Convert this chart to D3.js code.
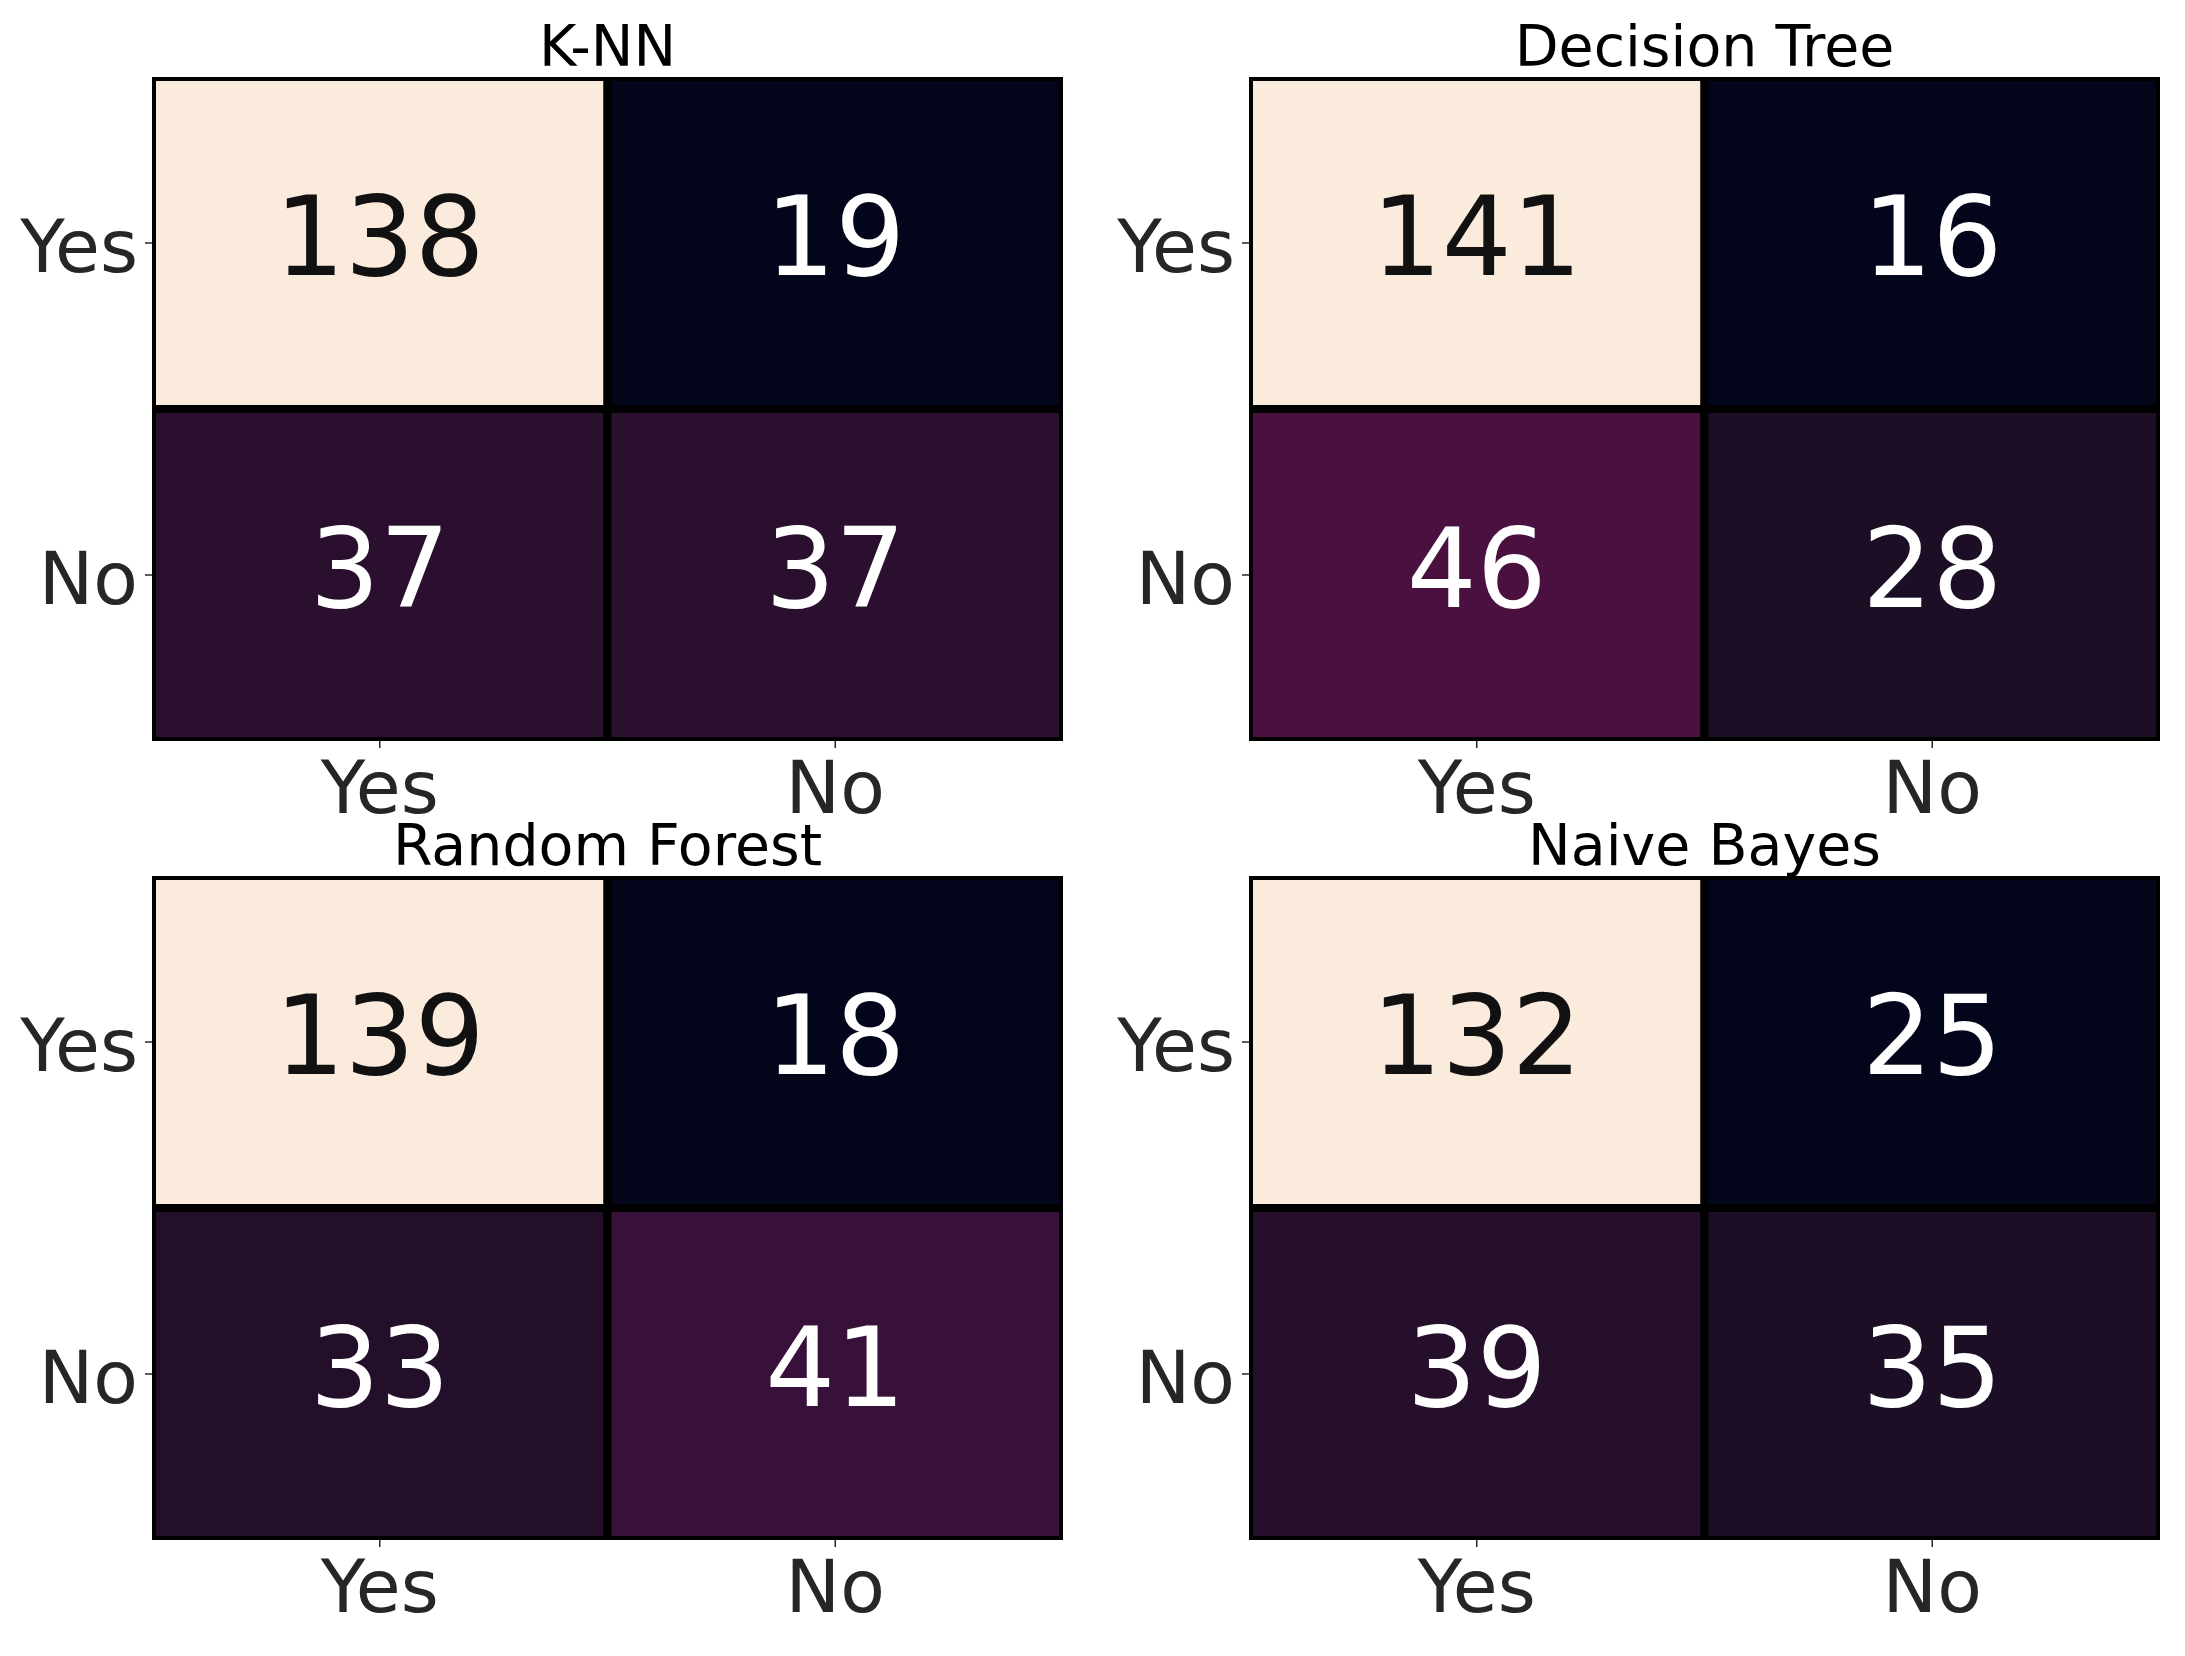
<!DOCTYPE html>
<html>
<head>
<meta charset="utf-8">
<script src="https://cdn.jsdelivr.net/npm/d3@7"></script>
<style>
    body { margin: 0; background: #fff; }
    text { font-family: "DejaVu Sans", sans-serif; }
</style>
</head>
<body>
<div class="view1"></div>
<script>
// Data - one confusion matrix per model (rows = actual, cols = predicted)
const models = ["K-NN", "Decision Tree", "Random Forest", "Naive Bayes"];
const classes = ["Yes", "No"];
const knn = [[138, 19], [37, 37]];
const decisionTree = [[141, 16], [46, 28]];
const randomForest = [[139, 18], [33, 41]];
const naiveBayes = [[132, 25], [39, 35]];
const matrices = [knn, decisionTree, randomForest, naiveBayes];

// rocket-like colormap stops (t in 0..1), picked to match the picture
const rocketStops = [0, 0.095, 0.15, 0.19, 0.24, 0.43, 0.57, 0.71, 0.86, 1];
const rocketColors = ["#03051a", "#1b0e25", "#2a0f2e", "#37113a", "#4a1040",
    "#ad1759", "#e13342", "#f37651", "#f6b48f", "#fbebdd"];

class ConfGrid {

    constructor(){
        // overall size and panel layout
        this.width = 2185;
        this.height = 1656;
        this.margin = {top: 77, left: 152};
        this.panelW = 911;
        this.panelH = 664;
        this.gapX = 186;
        this.gapY = 135;
    }

    draw(){
        let that = this;

        let svg = d3.select(".view1").append("svg")
            .attr("width", this.width)
            .attr("height", this.height);

        svg.append("rect")
            .attr("width", this.width)
            .attr("height", this.height)
            .attr("fill", "#fff");

        let colorScale = d3.scaleLinear()
            .domain(rocketStops)
            .range(rocketColors)
            .interpolate(d3.interpolateRgb);

        models.forEach((name, k) => {
            let col = k % 2;
            let row = Math.floor(k / 2);
            let px = that.margin.left + col * (that.panelW + that.gapX);
            let py = that.margin.top + row * (that.panelH + that.gapY);
            let m = matrices[k];

            //flatten the matrix into cells
            let cells = [];
            m.forEach((r, i) => r.forEach((v, j) => cells.push({row: classes[i], col: classes[j], v: v})));

            let vmin = d3.min(cells, d => d.v);
            let vmax = d3.max(cells, d => d.v);
            let norm = d3.scaleLinear().domain([vmin, vmax]).range([0, 1]);

            let x = d3.scaleBand().domain(classes).range([0, that.panelW]);
            let y = d3.scaleBand().domain(classes).range([0, that.panelH]);

            let g = svg.append("g")
                .attr("transform", "translate(" + px + "," + py + ")");

            // clip so the outer half of the cell borders is cut off
            g.append("clipPath")
                .attr("id", "clip" + k)
                .append("rect")
                .attr("width", that.panelW)
                .attr("height", that.panelH);

            let cellLayer = g.append("g").attr("clip-path", "url(#clip" + k + ")");
            cellLayer.selectAll("rect")
                .data(cells)
                .join("rect")
                .attr("x", d => x(d.col))
                .attr("y", d => y(d.row))
                .attr("width", x.bandwidth())
                .attr("height", y.bandwidth())
                .attr("fill", d => colorScale(norm(d.v)))
                .attr("stroke", "#000")
                .attr("stroke-width", 8);

            // numbers in the cells
            g.selectAll("text.val")
                .data(cells)
                .join("text")
                .classed("val", true)
                .attr("x", d => x(d.col) + x.bandwidth() / 2)
                .attr("y", d => y(d.row) + y.bandwidth() / 2)
                .attr("dy", "0.29em")
                .attr("text-anchor", "middle")
                .attr("font-size", 110)
                .attr("fill", d => norm(d.v) > 0.5 ? "#111" : "#fff")
                .text(d => d.v);

            // axes
            let yAxis = g.append("g")
                .call(d3.axisLeft(y).tickSize(7).tickPadding(7));
            let xAxis = g.append("g")
                .attr("transform", "translate(0," + that.panelH + ")")
                .call(d3.axisBottom(x).tickSize(7).tickPadding(13));

            [yAxis, xAxis].forEach(a => {
                a.select(".domain").remove();
                a.selectAll(".tick line").attr("stroke", "#262626").attr("stroke-width", 1.5);
                a.selectAll(".tick text")
                    .attr("font-size", 73)
                    .attr("font-family", "DejaVu Sans, sans-serif")
                    .attr("fill", "#262626");
            });
            yAxis.selectAll(".tick text").attr("dy", "0.4em");

            // title
            g.append("text")
                .attr("x", that.panelW / 2)
                .attr("y", -11)
                .attr("text-anchor", "middle")
                .attr("font-size", 57)
                .attr("fill", "#000")
                .text(name);
        });
    }
}

let grid = new ConfGrid();
grid.draw();
</script>
</body>
</html>
